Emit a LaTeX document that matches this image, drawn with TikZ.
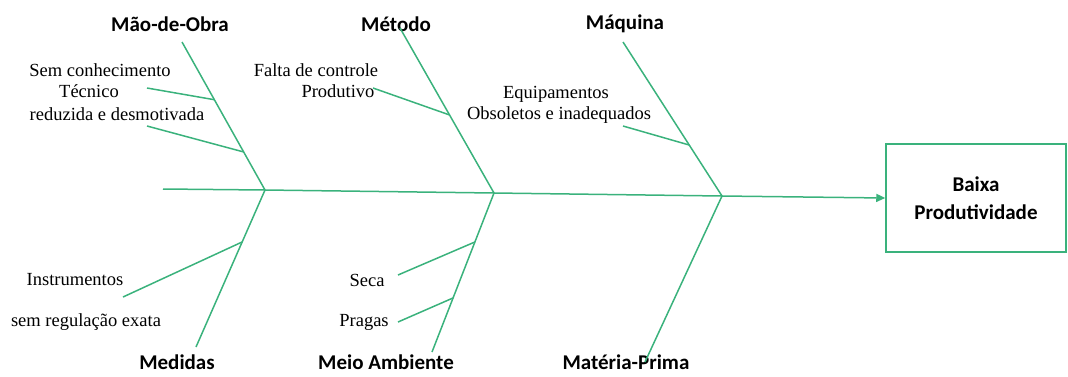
\documentclass[tikz,border=0pt]{standalone}
\usepackage{fontspec}
\usepackage{tikz}
\usetikzlibrary{arrows.meta, calc}
\newfontfamily\headfont{Carlito}
\newfontfamily\notefont{Liberation Serif}
\definecolor{bonegreen}{RGB}{58, 178, 124}

\begin{document}
\begin{tikzpicture}[
    x=1pt, y=-1pt,
    bone/.style={draw=bonegreen, line width=1.5pt},
    cause/.style={inner sep=0pt, font=\headfont\bfseries\fontsize{21}{25}\selectfont},
    note/.style={inner sep=0pt, font=\notefont\fontsize{18.5}{22}\selectfont},
    effectbox/.style={rectangle, draw=bonegreen, line width=1.5pt, minimum width=180pt, minimum height=108pt, align=center, font=\headfont\bfseries\fontsize{21}{28}\selectfont}
]
    \useasboundingbox (0,0) rectangle (1068,376);

    \node[effectbox] (effect) at (976,198) {Baixa\\Produtividade};

    \coordinate (tail) at (163,189);
    \coordinate (j1) at (265,190);
    \coordinate (j2) at (494,193);
    \coordinate (j3) at (722,196);

    \coordinate (mo-top) at (182,42);
    \coordinate (met-top) at (400,28);
    \coordinate (maq-top) at (623,42);
    \coordinate (med-bot) at (196,347);
    \coordinate (meio-bot) at (432,352);
    \coordinate (mp-bot) at (645,362);

    \node[cause] (mo) at (170,24) {Mão-de-Obra};
    \node[cause] (met) at (396,24) {Método};
    \node[cause] (maq) at (625,24) {Máquina};
    \node[cause] (med) at (177,362) {Medidas};
    \node[cause] (meio) at (386,362) {Meio Ambiente};
    \node[cause] (mp) at (626,362) {Matéria-Prima};

    \node[note] (mo-n1) at (100,70) {Sem conhecimento};
    \node[note] (mo-n2) at (89,91) {Técnico};
    \node[note] (mo-n3) at (117,114) {reduzida e desmotivada};
    \node[note] (met-n1) at (316,70) {Falta de controle};
    \node[note] (met-n2) at (338,91) {Produtivo};
    \node[note] (maq-n1) at (556,94) {Equipamentos};
    \node[note] (maq-n2) at (559,115) {Obsoletos e inadequados};
    \node[note] (med-n1) at (75,280) {Instrumentos};
    \node[note] (med-n2) at (86,322) {sem regulação exata};
    \node[note] (meio-n1) at (367,280) {Seca};
    \node[note] (meio-n2) at (364,322) {Pragas};

    \coordinate (mo-s1) at (147,88);
    \coordinate (mo-s2) at (147,126);
    \coordinate (met-s1) at (373,88);
    \coordinate (maq-s1) at (623,126);
    \coordinate (med-s1) at (123,297);
    \coordinate (meio-s1) at (398,275);
    \coordinate (meio-s2) at (398,322);

    \draw[bone, -{Triangle[length=9pt, width=8pt]}] (tail) -- (j1) -- (j2) -- (j3) -- (effect.west);

    \draw[bone] (mo-top) -- (j1) -- (med-bot);
    \draw[bone] (met-top) -- (j2) -- (meio-bot);
    \draw[bone] (maq-top) -- (j3) -- (mp-bot);

    \draw[bone] (mo-s1) -- ($(mo-top)!0.39!(j1)$);
    \draw[bone] (mo-s2) -- ($(mo-top)!0.743!(j1)$);
    \draw[bone] (met-s1) -- ($(met-top)!0.527!(j2)$);
    \draw[bone] (maq-s1) -- ($(maq-top)!0.669!(j3)$);
    \draw[bone] (med-s1) -- ($(j1)!0.331!(med-bot)$);
    \draw[bone] (meio-s1) -- ($(j2)!0.308!(meio-bot)$);
    \draw[bone] (meio-s2) -- ($(j2)!0.66!(meio-bot)$);
\end{tikzpicture}
\end{document}
